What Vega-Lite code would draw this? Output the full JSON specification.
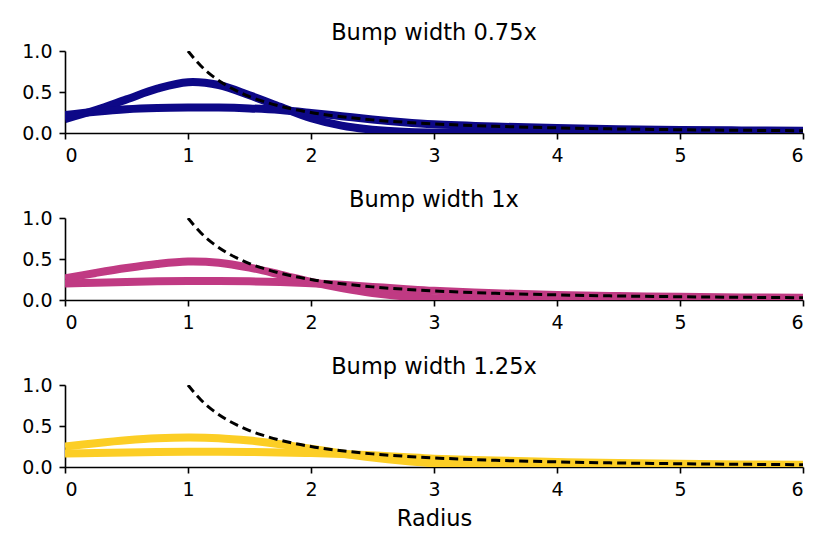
{
  "$schema": "https://vega.github.io/schema/vega-lite/v6.json",
  "padding": {"left": 21, "top": 21, "right": 22, "bottom": 24},
  "config": {
    "font": "DejaVu Sans",
    "view": {"stroke": null},
    "axis": {
      "grid": false,
      "domainColor": "#000000",
      "domainWidth": 1.6,
      "tickColor": "#000000",
      "tickWidth": 1.6,
      "tickSize": 6,
      "labelColor": "#000000",
      "labelFont": "DejaVu Sans",
      "labelFontSize": 19,
      "labelPadding": 7,
      "titleFont": "DejaVu Sans",
      "titleFontSize": 22.5,
      "titleFontWeight": "normal",
      "titleColor": "#000000",
      "titlePadding": 8
    },
    "title": {"font": "DejaVu Sans", "fontSize": 22.5, "fontWeight": "normal", "color": "#000000", "offset": -2, "frame": "group", "anchor": "middle"},
    "concat": {"spacing": 23}
  },
  "datasets": {
    "curves": [
      {"w": "0.75x", "curve": "bump", "r": 0, "v": 0.17},
      {"w": "0.75x", "curve": "bump", "r": 0.25, "v": 0.28},
      {"w": "0.75x", "curve": "bump", "r": 0.5, "v": 0.41},
      {"w": "0.75x", "curve": "bump", "r": 0.75, "v": 0.54},
      {"w": "0.75x", "curve": "bump", "r": 1, "v": 0.62},
      {"w": "0.75x", "curve": "bump", "r": 1.25, "v": 0.585},
      {"w": "0.75x", "curve": "bump", "r": 1.5, "v": 0.46},
      {"w": "0.75x", "curve": "bump", "r": 1.75, "v": 0.32},
      {"w": "0.75x", "curve": "bump", "r": 2, "v": 0.18},
      {"w": "0.75x", "curve": "bump", "r": 2.25, "v": 0.09},
      {"w": "0.75x", "curve": "bump", "r": 2.5, "v": 0.04},
      {"w": "0.75x", "curve": "bump", "r": 2.75, "v": 0.015},
      {"w": "0.75x", "curve": "bump", "r": 3, "v": 0.006},
      {"w": "0.75x", "curve": "bump", "r": 3.5, "v": 0.002},
      {"w": "0.75x", "curve": "bump", "r": 4, "v": 0.001},
      {"w": "0.75x", "curve": "bump", "r": 5, "v": 0.001},
      {"w": "0.75x", "curve": "bump", "r": 6, "v": 0.001},
      {"w": "0.75x", "curve": "flat", "r": 0, "v": 0.22},
      {"w": "0.75x", "curve": "flat", "r": 0.25, "v": 0.26},
      {"w": "0.75x", "curve": "flat", "r": 0.5, "v": 0.29},
      {"w": "0.75x", "curve": "flat", "r": 0.75, "v": 0.305},
      {"w": "0.75x", "curve": "flat", "r": 1, "v": 0.31},
      {"w": "0.75x", "curve": "flat", "r": 1.25, "v": 0.31},
      {"w": "0.75x", "curve": "flat", "r": 1.5, "v": 0.30},
      {"w": "0.75x", "curve": "flat", "r": 1.75, "v": 0.28},
      {"w": "0.75x", "curve": "flat", "r": 2, "v": 0.245},
      {"w": "0.75x", "curve": "flat", "r": 2.25, "v": 0.205},
      {"w": "0.75x", "curve": "flat", "r": 2.5, "v": 0.165},
      {"w": "0.75x", "curve": "flat", "r": 2.75, "v": 0.132},
      {"w": "0.75x", "curve": "flat", "r": 3, "v": 0.107},
      {"w": "0.75x", "curve": "flat", "r": 3.5, "v": 0.079},
      {"w": "0.75x", "curve": "flat", "r": 4, "v": 0.06},
      {"w": "0.75x", "curve": "flat", "r": 4.5, "v": 0.047},
      {"w": "0.75x", "curve": "flat", "r": 5, "v": 0.038},
      {"w": "0.75x", "curve": "flat", "r": 5.5, "v": 0.032},
      {"w": "0.75x", "curve": "flat", "r": 6, "v": 0.027},
      {"w": "1x", "curve": "bump", "r": 0, "v": 0.265},
      {"w": "1x", "curve": "bump", "r": 0.25, "v": 0.33},
      {"w": "1x", "curve": "bump", "r": 0.5, "v": 0.39},
      {"w": "1x", "curve": "bump", "r": 0.75, "v": 0.44},
      {"w": "1x", "curve": "bump", "r": 1, "v": 0.47},
      {"w": "1x", "curve": "bump", "r": 1.25, "v": 0.455},
      {"w": "1x", "curve": "bump", "r": 1.5, "v": 0.395},
      {"w": "1x", "curve": "bump", "r": 1.75, "v": 0.31},
      {"w": "1x", "curve": "bump", "r": 2, "v": 0.22},
      {"w": "1x", "curve": "bump", "r": 2.25, "v": 0.145},
      {"w": "1x", "curve": "bump", "r": 2.5, "v": 0.085},
      {"w": "1x", "curve": "bump", "r": 2.75, "v": 0.045},
      {"w": "1x", "curve": "bump", "r": 3, "v": 0.022},
      {"w": "1x", "curve": "bump", "r": 3.5, "v": 0.007},
      {"w": "1x", "curve": "bump", "r": 4, "v": 0.003},
      {"w": "1x", "curve": "bump", "r": 5, "v": 0.001},
      {"w": "1x", "curve": "bump", "r": 6, "v": 0.001},
      {"w": "1x", "curve": "flat", "r": 0, "v": 0.20},
      {"w": "1x", "curve": "flat", "r": 0.25, "v": 0.21},
      {"w": "1x", "curve": "flat", "r": 0.5, "v": 0.22},
      {"w": "1x", "curve": "flat", "r": 0.75, "v": 0.228},
      {"w": "1x", "curve": "flat", "r": 1, "v": 0.232},
      {"w": "1x", "curve": "flat", "r": 1.25, "v": 0.232},
      {"w": "1x", "curve": "flat", "r": 1.5, "v": 0.228},
      {"w": "1x", "curve": "flat", "r": 1.75, "v": 0.22},
      {"w": "1x", "curve": "flat", "r": 2, "v": 0.205},
      {"w": "1x", "curve": "flat", "r": 2.25, "v": 0.185},
      {"w": "1x", "curve": "flat", "r": 2.5, "v": 0.16},
      {"w": "1x", "curve": "flat", "r": 2.75, "v": 0.135},
      {"w": "1x", "curve": "flat", "r": 3, "v": 0.112},
      {"w": "1x", "curve": "flat", "r": 3.5, "v": 0.082},
      {"w": "1x", "curve": "flat", "r": 4, "v": 0.062},
      {"w": "1x", "curve": "flat", "r": 4.5, "v": 0.048},
      {"w": "1x", "curve": "flat", "r": 5, "v": 0.039},
      {"w": "1x", "curve": "flat", "r": 5.5, "v": 0.032},
      {"w": "1x", "curve": "flat", "r": 6, "v": 0.027},
      {"w": "1.25x", "curve": "bump", "r": 0, "v": 0.25},
      {"w": "1.25x", "curve": "bump", "r": 0.25, "v": 0.29},
      {"w": "1.25x", "curve": "bump", "r": 0.5, "v": 0.325},
      {"w": "1.25x", "curve": "bump", "r": 0.75, "v": 0.35},
      {"w": "1.25x", "curve": "bump", "r": 1, "v": 0.36},
      {"w": "1.25x", "curve": "bump", "r": 1.25, "v": 0.352},
      {"w": "1.25x", "curve": "bump", "r": 1.5, "v": 0.322},
      {"w": "1.25x", "curve": "bump", "r": 1.75, "v": 0.278},
      {"w": "1.25x", "curve": "bump", "r": 2, "v": 0.222},
      {"w": "1.25x", "curve": "bump", "r": 2.25, "v": 0.165},
      {"w": "1.25x", "curve": "bump", "r": 2.5, "v": 0.115},
      {"w": "1.25x", "curve": "bump", "r": 2.75, "v": 0.075},
      {"w": "1.25x", "curve": "bump", "r": 3, "v": 0.045},
      {"w": "1.25x", "curve": "bump", "r": 3.5, "v": 0.015},
      {"w": "1.25x", "curve": "bump", "r": 4, "v": 0.005},
      {"w": "1.25x", "curve": "bump", "r": 4.5, "v": 0.002},
      {"w": "1.25x", "curve": "bump", "r": 5, "v": 0.001},
      {"w": "1.25x", "curve": "bump", "r": 6, "v": 0.001},
      {"w": "1.25x", "curve": "flat", "r": 0, "v": 0.165},
      {"w": "1.25x", "curve": "flat", "r": 0.25, "v": 0.17},
      {"w": "1.25x", "curve": "flat", "r": 0.5, "v": 0.178},
      {"w": "1.25x", "curve": "flat", "r": 0.75, "v": 0.183},
      {"w": "1.25x", "curve": "flat", "r": 1, "v": 0.185},
      {"w": "1.25x", "curve": "flat", "r": 1.25, "v": 0.185},
      {"w": "1.25x", "curve": "flat", "r": 1.5, "v": 0.183},
      {"w": "1.25x", "curve": "flat", "r": 1.75, "v": 0.178},
      {"w": "1.25x", "curve": "flat", "r": 2, "v": 0.17},
      {"w": "1.25x", "curve": "flat", "r": 2.25, "v": 0.158},
      {"w": "1.25x", "curve": "flat", "r": 2.5, "v": 0.142},
      {"w": "1.25x", "curve": "flat", "r": 2.75, "v": 0.122},
      {"w": "1.25x", "curve": "flat", "r": 3, "v": 0.102},
      {"w": "1.25x", "curve": "flat", "r": 3.5, "v": 0.079},
      {"w": "1.25x", "curve": "flat", "r": 4, "v": 0.061},
      {"w": "1.25x", "curve": "flat", "r": 4.5, "v": 0.048},
      {"w": "1.25x", "curve": "flat", "r": 5, "v": 0.039},
      {"w": "1.25x", "curve": "flat", "r": 5.5, "v": 0.032},
      {"w": "1.25x", "curve": "flat", "r": 6, "v": 0.027}
    ],
    "ref": [
      {"r": 1, "v": 1},
      {"r": 1.1, "v": 0.826},
      {"r": 1.2, "v": 0.694},
      {"r": 1.3, "v": 0.592},
      {"r": 1.4, "v": 0.510},
      {"r": 1.5, "v": 0.444},
      {"r": 1.6, "v": 0.391},
      {"r": 1.75, "v": 0.327},
      {"r": 2, "v": 0.25},
      {"r": 2.25, "v": 0.198},
      {"r": 2.5, "v": 0.16},
      {"r": 2.75, "v": 0.132},
      {"r": 3, "v": 0.111},
      {"r": 3.5, "v": 0.082},
      {"r": 4, "v": 0.0625},
      {"r": 4.5, "v": 0.049},
      {"r": 5, "v": 0.04},
      {"r": 5.5, "v": 0.033},
      {"r": 6, "v": 0.028}
    ]
  },
  "vconcat": [
    {
      "title": "Bump width 0.75x",
      "width": 738,
      "height": 82,
      "layer": [
        {
          "data": {"name": "curves"},
          "transform": [{"filter": "datum.w == '0.75x'"}],
          "mark": {"type": "line", "color": "#0d0887", "strokeWidth": 8, "interpolate": "catmull-rom", "clip": true},
          "encoding": {
            "x": {"field": "r", "type": "quantitative", "scale": {"domain": [0, 6], "nice": false}, "axis": {"values": [0, 1, 2, 3, 4, 5, 6], "format": "d", "title": null}},
            "y": {"field": "v", "type": "quantitative", "scale": {"domain": [0, 1], "nice": false}, "axis": {"values": [0, 0.5, 1], "format": ".1f", "title": null}},
            "detail": {"field": "curve"}
          }
        },
        {
          "data": {"name": "ref"},
          "mark": {"type": "line", "color": "#000000", "strokeWidth": 3, "strokeDash": [9, 5], "interpolate": "monotone", "clip": true},
          "encoding": {
            "x": {"field": "r", "type": "quantitative"},
            "y": {"field": "v", "type": "quantitative"}
          }
        }
      ]
    },
    {
      "title": "Bump width 1x",
      "width": 738,
      "height": 82,
      "layer": [
        {
          "data": {"name": "curves"},
          "transform": [{"filter": "datum.w == '1x'"}],
          "mark": {"type": "line", "color": "#c03a83", "strokeWidth": 8, "interpolate": "catmull-rom", "clip": true},
          "encoding": {
            "x": {"field": "r", "type": "quantitative", "scale": {"domain": [0, 6], "nice": false}, "axis": {"values": [0, 1, 2, 3, 4, 5, 6], "format": "d", "title": null}},
            "y": {"field": "v", "type": "quantitative", "scale": {"domain": [0, 1], "nice": false}, "axis": {"values": [0, 0.5, 1], "format": ".1f", "title": null}},
            "detail": {"field": "curve"}
          }
        },
        {
          "data": {"name": "ref"},
          "mark": {"type": "line", "color": "#000000", "strokeWidth": 3, "strokeDash": [9, 5], "interpolate": "monotone", "clip": true},
          "encoding": {
            "x": {"field": "r", "type": "quantitative"},
            "y": {"field": "v", "type": "quantitative"}
          }
        }
      ]
    },
    {
      "title": "Bump width 1.25x",
      "width": 738,
      "height": 82,
      "layer": [
        {
          "data": {"name": "curves"},
          "transform": [{"filter": "datum.w == '1.25x'"}],
          "mark": {"type": "line", "color": "#fcce25", "strokeWidth": 8, "interpolate": "catmull-rom", "clip": true},
          "encoding": {
            "x": {"field": "r", "type": "quantitative", "scale": {"domain": [0, 6], "nice": false}, "axis": {"values": [0, 1, 2, 3, 4, 5, 6], "format": "d", "title": "Radius"}},
            "y": {"field": "v", "type": "quantitative", "scale": {"domain": [0, 1], "nice": false}, "axis": {"values": [0, 0.5, 1], "format": ".1f", "title": null}},
            "detail": {"field": "curve"}
          }
        },
        {
          "data": {"name": "ref"},
          "mark": {"type": "line", "color": "#000000", "strokeWidth": 3, "strokeDash": [9, 5], "interpolate": "monotone", "clip": true},
          "encoding": {
            "x": {"field": "r", "type": "quantitative"},
            "y": {"field": "v", "type": "quantitative"}
          }
        }
      ]
    }
  ]
}
